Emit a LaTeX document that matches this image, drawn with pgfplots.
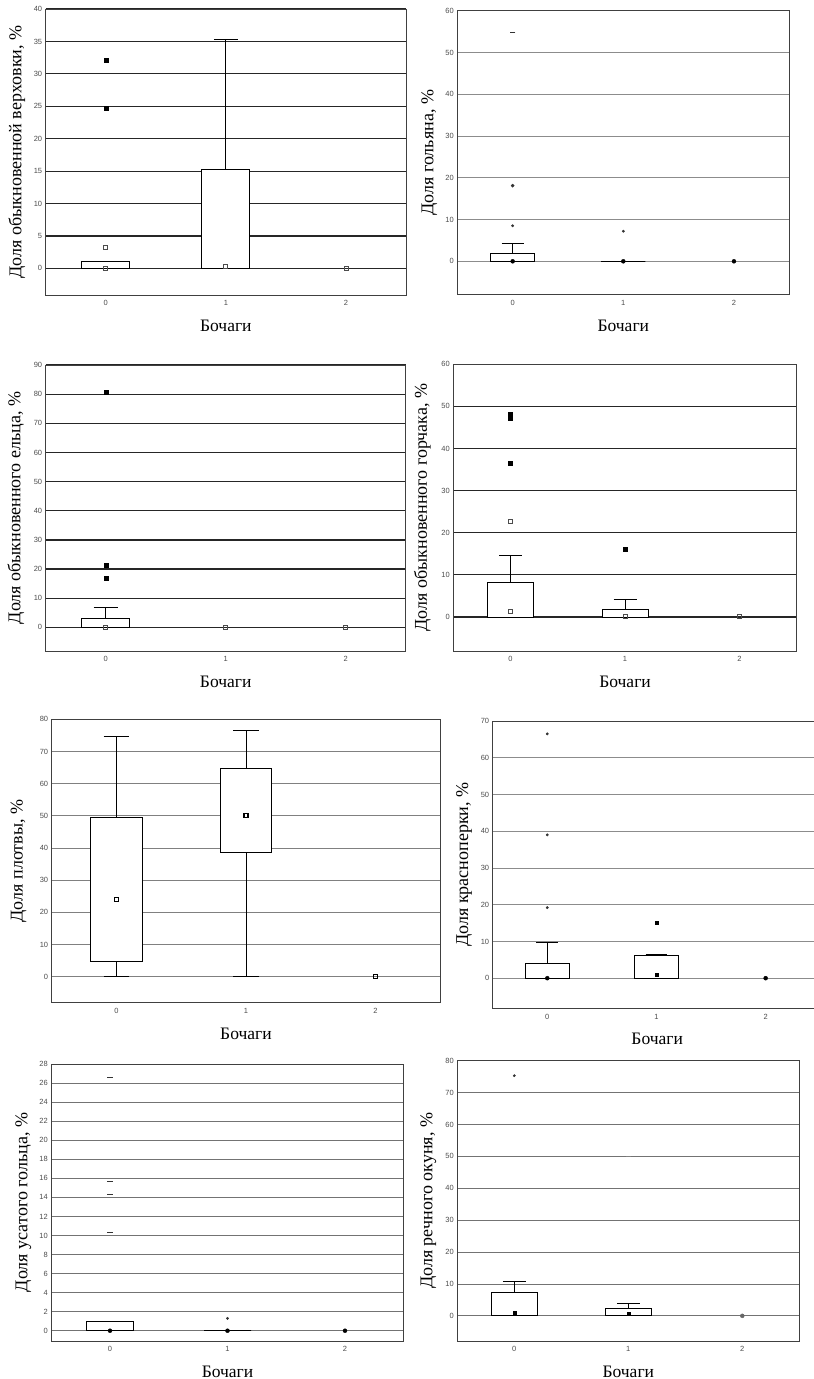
\documentclass[border=0pt]{standalone}
\usepackage{fontspec}
\setmainfont{Liberation Serif}
\setsansfont{Liberation Sans}
\usepackage{pgfplots}
\pgfplotsset{compat=1.18}
\usepgfplotslibrary{statistics}
\pgfplotsset{
  panel/.style={
    scale only axis, anchor=south west,
    xmin=-0.5, xmax=2.5, xtick={0,1,2},
    ymajorgrids,
    axis line style={black!75, line width=0.9pt},
    major tick length=0pt,
    ticklabel style={font=\sffamily\fontsize{7.5}{9}\selectfont, text=black!70},
    xticklabel style={yshift=-2pt},
    /pgf/number format/assume math mode=true,
    xlabel={Бочаги},
    xlabel style={font=\fontsize{17.5}{20}\selectfont, at={(axis description cs:0.5,0)}, anchor=center, yshift=-31pt},
    ylabel style={font=\fontsize{18}{20}\selectfont, anchor=center},
  },
  dark/.style={grid style={black!85, line width=1.2pt}},
  light/.style={grid style={black!45, line width=0.7pt}},
  bx/.style={boxplot prepared={#1, box extend=0.4, whisker extend=0.2},
    boxplot/draw direction=y,
    boxplot/draw/median/.code={},
    boxplot/every box/.style={draw=black, fill=white, line width=0.8pt},
    boxplot/every whisker/.style={draw=black, line width=0.8pt},
    draw=black, line width=0.8pt},
  fsq/.style={only marks, mark=square*, mark size=2pt, black},
  osq/.style={only marks, mark=square, mark size=2pt, mark options={draw=black!70, line width=0.9pt}},
  fdot/.style={only marks, mark=*, mark size=2pt, black},
  sdot/.style={only marks, mark=*, mark size=1.2pt, black!80},
  dsh/.style={only marks, mark=-, mark size=2.8pt, mark options={draw=black!80, line width=1.1pt}},
}
\begin{document}
\begin{tikzpicture}
\useasboundingbox (0pt,0pt) rectangle (814pt,-1379pt);
% Panel 1
\begin{axis}[panel, dark, at={(45.7pt,-295pt)}, width=360.3pt, height=286pt,
  ymin=-4.1, ymax=40, ytick={0,5,...,40},
  ylabel={Доля обыкновенной верховки, \%},
  ylabel style={at={(axis description cs:-0.080,0.5)}}]
\addplot[bx={lower whisker=0, lower quartile=0, median=0, upper quartile=1.15, upper whisker=1.15, draw position=0}] coordinates {};
\addplot[bx={lower whisker=0, lower quartile=0, median=0.3, upper quartile=15.3, upper whisker=35.3, draw position=1}] coordinates {};
\addplot[fsq] coordinates {(0,32.1) (0,24.7)};
\addplot[osq] coordinates {(0,3.3) (0,0) (1,0.3) (2,0)};
\end{axis}
% Panel 2
\begin{axis}[panel, light, at={(457.3pt,-294.7pt)}, width=332pt, height=284pt,
  ymin=-8, ymax=60, ytick={0,10,...,60},
  ylabel={Доля гольяна, \%},
  ylabel style={at={(axis description cs:-0.084,0.5)}}]
\addplot[bx={lower whisker=0, lower quartile=0, median=0, upper quartile=1.9, upper whisker=4.2, draw position=0}] coordinates {};
\addplot[bx={lower whisker=0, lower quartile=0, median=0, upper quartile=0, upper whisker=0, draw position=1}] coordinates {};
\addplot[dsh] coordinates {(0,54.8)};
\addplot[sdot, mark size=1.6pt] coordinates {(0,18.1)};
\addplot[sdot] coordinates {(0,8.5) (1,7.2)};
\addplot[fdot] coordinates {(0,0) (1,0) (2,0)};
\end{axis}
% Panel 3
\begin{axis}[panel, dark, at={(45.7pt,-651pt)}, width=360pt, height=286pt,
  ymin=-8.1, ymax=90, ytick={0,10,...,90},
  ylabel={Доля обыкновенного ельца, \%},
  ylabel style={at={(axis description cs:-0.083,0.5)}}]
\addplot[bx={lower whisker=0, lower quartile=0, median=0, upper quartile=3.1, upper whisker=6.7, draw position=0}] coordinates {};
\addplot[fsq] coordinates {(0,80.6) (0,21.3) (0,16.8)};
\addplot[osq] coordinates {(0,0) (1,0) (2,0)};
\end{axis}
% Panel 4
\begin{axis}[panel, dark, at={(453.3pt,-651pt)}, width=343.5pt, height=286.7pt,
  ymin=-8.1, ymax=60, ytick={0,10,...,60},
  ylabel={Доля обыкновенного горчака, \%},
  ylabel style={at={(axis description cs:-0.090,0.5)}}]
\addplot[bx={lower whisker=0, lower quartile=0, median=1.4, upper quartile=8.3, upper whisker=14.7, draw position=0}] coordinates {};
\addplot[bx={lower whisker=0, lower quartile=0, median=0, upper quartile=1.8, upper whisker=4.2, draw position=1}] coordinates {};
\addplot[fsq] coordinates {(0,48.2) (0,47.1) (0,36.6) (1,16.0)};
\addplot[osq] coordinates {(0,22.6) (0,1.4) (1,0) (2,0)};
\end{axis}
% Panel 5
\begin{axis}[panel, light, grid style={black!50, line width=0.8pt}, at={(51.7pt,-1002.7pt)}, width=388.5pt, height=283.4pt,
  ymin=-8.1, ymax=80, ytick={0,10,...,80},
  ylabel={Доля плотвы, \%},
  ylabel style={at={(axis description cs:-0.085,0.5)}}]
\addplot[bx={lower whisker=0, lower quartile=4.7, median=24.1, upper quartile=49.4, upper whisker=74.6, draw position=0}] coordinates {};
\addplot[bx={lower whisker=0, lower quartile=38.5, median=50, upper quartile=64.6, upper whisker=76.5, draw position=1}] coordinates {};
\addplot[osq, mark options={draw=black, line width=1.1pt}] coordinates {(0,24.1) (1,50) (2,0)};
\end{axis}
% Panel 6
\begin{axis}[panel, light, at={(492.7pt,-1008.3pt)}, width=321.3pt, height=287.3pt,
  xmax=2.443,
  ymin=-8.2, ymax=70, ytick={0,10,...,70},
  ylabel={Доля красноперки, \%},
  xlabel style={at={(axis description cs:0.512,0)}},
  ylabel style={at={(axis description cs:-0.089,0.5)}}]
\addplot[bx={lower whisker=0, lower quartile=0, median=0, upper quartile=4.1, upper whisker=9.7, draw position=0}] coordinates {};
\addplot[bx={lower whisker=0, lower quartile=0, median=1.0, upper quartile=6.1, upper whisker=6.6, draw position=1}] coordinates {};
\addplot[sdot] coordinates {(0,66.5) (0,39.0) (0,19.2)};
\addplot[fsq, mark size=1.6pt] coordinates {(1,15.0) (1,1.0)};
\addplot[fdot] coordinates {(0,0) (2,0)};
\end{axis}
% Panel 7
\begin{axis}[panel, light, grid style={black!55, line width=0.8pt}, at={(51.25pt,-1341pt)}, width=352.5pt, height=277pt,
  ymin=-1.08, ymax=28, ytick={0,2,...,28},
  ylabel={Доля усатого гольца, \%},
  ylabel style={at={(axis description cs:-0.079,0.5)}}]
\addplot[bx={lower whisker=0, lower quartile=0, median=0, upper quartile=0.95, upper whisker=0.95, draw position=0}] coordinates {};
\addplot[bx={lower whisker=0, lower quartile=0, median=0, upper quartile=0, upper whisker=0, draw position=1}] coordinates {};
\addplot[dsh] coordinates {(0,26.6) (0,15.7) (0,14.3) (0,10.3)};
\addplot[sdot] coordinates {(1,1.3)};
\addplot[fdot] coordinates {(0,0) (1,0) (2,0)};
\end{axis}
% Panel 8
\begin{axis}[panel, light, grid style={black!55, line width=0.8pt}, at={(457.3pt,-1341pt)}, width=342pt, height=280.3pt,
  ymin=-7.9, ymax=80, ytick={0,10,...,80},
  ylabel={Доля речного окуня, \%},
  ylabel style={at={(axis description cs:-0.085,0.5)}}]
\addplot[bx={lower whisker=0, lower quartile=0, median=0.9, upper quartile=7.3, upper whisker=10.8, draw position=0}] coordinates {};
\addplot[bx={lower whisker=0, lower quartile=0, median=0.7, upper quartile=2.3, upper whisker=3.9, draw position=1}] coordinates {};
\addplot[sdot] coordinates {(0,75.3)};
\addplot[dsh, mark options={draw=black!50}] coordinates {(1,50.0)};
\addplot[fsq, mark size=1.6pt] coordinates {(0,0.9) (1,0.7)};
\addplot[fdot, black!60] coordinates {(2,0)};
\end{axis}
\end{tikzpicture}
\end{document}
